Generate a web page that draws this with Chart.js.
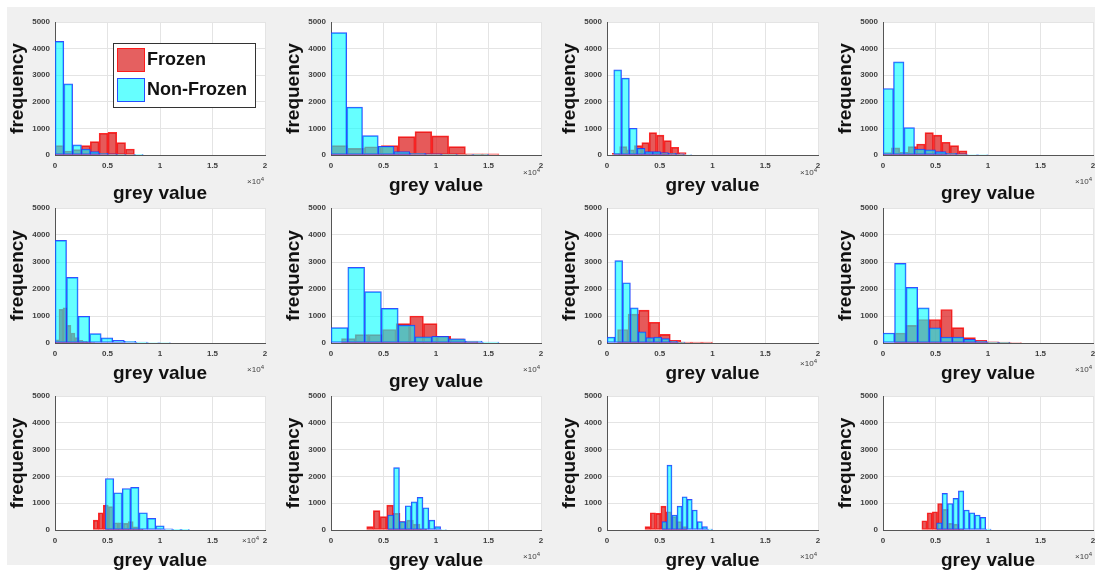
<!DOCTYPE html>
<html>
<head>
<meta charset="utf-8">
<script src="https://cdn.jsdelivr.net/npm/chart.js@4.4.1/dist/chart.umd.min.js"></script>
<style>
  html, body { margin: 0; padding: 0; background: #fff; width: 1098px; height: 570px; overflow: hidden; }
  #fig { position: absolute; left: 7px; top: 7px; width: 1088px; height: 558px; background: #f0f0f0; }
  .panel { position: absolute; }
</style>
</head>
<body>
<div id="fig"></div>
<script>
// bin edges + counts for each subplot, row by row
const frozenEdges = [
  [0, 840, 1680, 2520, 3360, 4200, 5040, 5880, 6720, 7560],
  [0, 1600, 3200, 4800, 6400, 8000, 9600, 11200, 12800, 14400, 16000],
  [500, 1200, 1900, 2600, 3300, 4000, 4700, 5400, 6100, 6800, 7500],
  [0, 800, 1600, 2400, 3200, 4000, 4800, 5600, 6400, 7200, 8000],
  [0, 380, 760, 1140, 1520, 1900, 2280, 2660, 3040, 3420, 3800],
  [1000, 2300, 3600, 4900, 6200, 7500, 8800, 10100, 11400, 12700, 14000],
  [1000, 2000, 3000, 4000, 5000, 6000, 7000, 8000, 9000, 10000],
  [1100, 2200, 3300, 4400, 5500, 6600, 7700, 8800, 9900, 11000, 12100, 13200],
  [3650, 4125, 4600, 5075, 5550, 6025, 6500, 6975, 7450, 7925, 8400],
  [3400, 4035, 4670, 5305, 5940, 6575, 7210, 7845, 8480, 9115],
  [3600, 4100, 4600, 5100, 5600, 6100, 6600, 7100, 7600],
  [3700, 4200, 4700, 5200, 5700, 6200, 6700, 7200, 7700]
];
const frozenCounts = [
  [350, 150, 200, 350, 500, 816, 850, 465, 226],
  [350, 250, 310, 350, 690, 880, 716, 314, 40, 40],
  [60, 314, 190, 350, 465, 840, 750, 540, 290, 90],
  [90, 270, 100, 314, 415, 840, 750, 480, 350, 160],
  [120, 1250, 1300, 650, 370, 200, 100, 60, 40, 20],
  [160, 310, 310, 500, 720, 1000, 720, 250, 150, 50],
  [500, 1070, 1215, 770, 320, 100, 30, 30, 30],
  [370, 650, 870, 870, 1240, 570, 200, 100, 40, 30, 20],
  [370, 645, 930, 870, 270, 270, 250, 310, 120, 30],
  [125, 720, 500, 930, 620, 310, 370, 220, 30],
  [125, 645, 620, 890, 680, 500, 310, 125],
  [345, 645, 680, 990, 770, 250, 220, 30]
];
const nonFrozenEdges = [
  [0, 840, 1680, 2520, 3360, 4200, 5040, 5880, 6720, 7560, 8400],
  [0, 1500, 3000, 4500, 6000, 7500, 9000, 10500, 12000, 13500, 15000],
  [640, 1380, 2120, 2860, 3600, 4340, 5080, 5820, 6560, 7300, 8040],
  [0, 1000, 2000, 3000, 4000, 5000, 6000, 7000, 8000, 9000, 10000],
  [0, 1100, 2200, 3300, 4400, 5500, 6600, 7700, 8800, 9900, 11000],
  [0, 1600, 3200, 4800, 6400, 8000, 9600, 11200, 12800, 14400, 16000],
  [0, 740, 1480, 2220, 2960, 3700, 4440, 5180, 5920, 6660, 7400],
  [0, 1100, 2200, 3300, 4400, 5500, 6600, 7700, 8800, 9900, 11000, 12100],
  [4800, 5600, 6400, 7200, 8000, 8800, 9600, 10400, 11200, 12000, 12800],
  [5400, 5960, 6520, 7080, 7640, 8200, 8760, 9320, 9880, 10440, 11000],
  [5200, 5680, 6160, 6640, 7120, 7600, 8080, 8560, 9040, 9520, 10000],
  [5100, 5620, 6140, 6660, 7180, 7700, 8220, 8740, 9260, 9780, 10300]
];
const nonFrozenCounts = [
  [4270, 2675, 380, 220, 125, 60, 40, 30, 20, 10],
  [4600, 1800, 730, 330, 130, 60, 40, 30, 20, 10],
  [3200, 2890, 1005, 250, 125, 125, 90, 60, 40, 20],
  [2500, 3500, 1030, 226, 190, 125, 60, 40, 20, 20],
  [3800, 2430, 990, 350, 190, 100, 60, 30, 20, 20],
  [570, 2800, 1900, 1280, 660, 225, 250, 150, 75, 30],
  [220, 3050, 2230, 1300, 410, 200, 220, 160, 75, 30],
  [370, 2950, 2060, 1300, 560, 220, 220, 136, 75, 30, 10],
  [1920, 1390, 1550, 1590, 645, 435, 160, 40, 10, 10],
  [560, 2330, 310, 905, 1050, 1215, 830, 370, 125, 20],
  [310, 2420, 560, 890, 1240, 1140, 745, 310, 125, 30],
  [270, 1365, 990, 1180, 1460, 745, 645, 560, 470, 30]
];
const seriesNames = ['Frozen', 'Non-Frozen'];
const xTicks = [0, 5000, 10000, 15000, 20000];
const yTicks = [0, 1000, 2000, 3000, 4000, 5000];

// plot-area boxes (px) of the 4x3 grid
const colBox = [[55, 265], [331, 541], [607, 818], [883, 1093]];
const rowBox = [[22, 155], [208, 343], [396, 530]];
// distance from the axis line down to the centre of "grey value" / the x10^4 note
const titleGap = [38, 30, 30, 38, 30, 38, 30, 30, 30, 30, 30, 30];
const expGap   = [27, 18, 18, 27, 27, 27, 21, 27, 11, 27, 27, 27];

const FONT = 'Arial, "Liberation Sans", Helvetica, sans-serif';
const LEFT = 55, TOP = 10, RIGHT = 10, BOTTOM = 52;

function bins(edges, counts) {
  return counts.map((c, i) => ({ x: (edges[i] + edges[i + 1]) / 2, y: c }));
}

// white axes background
const plotBackground = {
  id: 'plotBackground',
  beforeDraw(chart) {
    const { ctx, chartArea: a } = chart;
    ctx.save();
    ctx.fillStyle = '#fff';
    ctx.fillRect(a.left, a.top, a.right - a.left, a.bottom - a.top);
    ctx.restore();
  }
};

// "x10^4" multiplier under the right end of the x axis
const exponentNote = {
  id: 'exponentNote',
  afterDraw(chart, args, opts) {
    const { ctx, chartArea } = chart;
    ctx.save();
    ctx.fillStyle = '#404040';
    ctx.textBaseline = 'middle';
    ctx.textAlign = 'right';
    ctx.font = '6px ' + FONT;
    const x = chartArea.right - (opts.gap < 15 ? 6 : 1), y = chartArea.bottom + opts.gap;
    ctx.fillText('4', x, y - 3);
    const w = ctx.measureText('4').width;
    ctx.font = '8px ' + FONT;
    ctx.fillText('\u00d710', x - w, y);
    ctx.restore();
  }
};

// boxed legend in the top-right corner of the first subplot
const boxLegend = {
  id: 'boxLegend',
  afterDraw(chart, args, opts) {
    if (!opts.show) return;
    const { ctx, chartArea } = chart;
    const x0 = chartArea.right - 152, y0 = chartArea.top + 21, w = 142, h = 64;
    ctx.save();
    ctx.fillStyle = '#fff';
    ctx.fillRect(x0, y0, w, h);
    ctx.strokeStyle = '#333';
    ctx.lineWidth = 1;
    ctx.strokeRect(x0 + 0.5, y0 + 0.5, w, h);
    const order = [1, 0];
    order.forEach((di, k) => {
      const ds = chart.data.datasets[di];
      const sy = y0 + 5 + k * 30;
      ctx.fillStyle = ds.legendFill;
      ctx.fillRect(x0 + 4, sy, 28, 24);
      ctx.strokeStyle = ds.borderColor;
      ctx.strokeRect(x0 + 4.5, sy + 0.5, 27, 23);
      ctx.fillStyle = '#111';
      ctx.font = 'bold 18px ' + FONT;
      ctx.textBaseline = 'middle';
      ctx.textAlign = 'left';
      ctx.fillText(ds.label, x0 + 34, sy + 12);
    });
    ctx.restore();
  }
};

const fig = document.body;
for (let p = 0; p < 12; p++) {
  const [l, r] = colBox[p % 4];
  const [t, b] = rowBox[Math.floor(p / 4)];
  const w = r - l + LEFT + RIGHT, h = b - t + TOP + BOTTOM;
  const canvas = document.createElement('canvas');
  canvas.className = 'panel';
  canvas.width = w; canvas.height = h;
  canvas.style.left = (l - LEFT) + 'px';
  canvas.style.top = (t - TOP) + 'px';
  canvas.style.width = w + 'px';
  canvas.style.height = h + 'px';
  fig.appendChild(canvas);

  const xAxisHeight = titleGap[p] + 10;

  new Chart(canvas, {
    type: 'bar',
    data: {
      datasets: [
        {
          label: seriesNames[1],
          data: bins(nonFrozenEdges[p], nonFrozenCounts[p]),
          xAxisID: 'xb',
          backgroundColor: 'rgba(0, 255, 255, 0.6)',
          legendFill: 'rgb(102, 255, 255)',
          borderColor: 'rgba(30, 60, 255, 0.9)',
          borderWidth: 1,
          borderSkipped: false,
          grouped: false,
          barPercentage: 1,
          categoryPercentage: 1,
          order: 0
        },
        {
          label: seriesNames[0],
          data: bins(frozenEdges[p], frozenCounts[p]),
          xAxisID: 'x',
          backgroundColor: 'rgba(220, 20, 20, 0.7)',
          legendFill: 'rgb(229, 96, 96)',
          borderColor: 'rgba(255, 20, 20, 0.9)',
          borderWidth: 1,
          borderSkipped: false,
          grouped: false,
          barPercentage: 1,
          categoryPercentage: 1,
          order: 1
        }
      ]
    },
    options: {
      responsive: false,
      animation: false,
      devicePixelRatio: 1,
      layout: { padding: { left: 0, top: TOP, right: RIGHT, bottom: h - TOP - (b - t) - xAxisHeight } },
      plugins: {
        legend: { display: false },
        tooltip: { enabled: false },
        exponentNote: { gap: expGap[p] },
        boxLegend: { show: p === 0 }
      },
      scales: {
        x: {
          type: 'linear',
          min: xTicks[0], max: xTicks[xTicks.length - 1],
          offset: false,
          afterFit(s) { s.height = xAxisHeight; },
          afterBuildTicks(s) { s.ticks = xTicks.map(v => ({ value: v })); },
          grid: { color: '#e4e4e4', offset: false, drawTicks: false },
          border: { color: '#555', width: 1 },
          ticks: {
            padding: 6, autoSkip: false, maxRotation: 0, color: '#404040',
            font: { family: FONT, size: 8, weight: 'bold' },
            callback: v => String(v / 10000)
          },
          title: {
            display: true, text: 'grey value', color: '#111',
            font: { family: FONT, size: 19, weight: 'bold', lineHeight: 1 },
            padding: { top: 0, bottom: 0 }
          }
        },
        xb: {
          type: 'linear', display: false,
          min: xTicks[0], max: xTicks[xTicks.length - 1],
          offset: false,
          afterBuildTicks(s) { s.ticks = xTicks.map(v => ({ value: v })); }
        },
        y: {
          min: yTicks[0], max: yTicks[yTicks.length - 1],
          afterFit(s) { s.width = LEFT; },
          afterBuildTicks(s) { s.ticks = yTicks.map(v => ({ value: v })); },
          grid: { color: '#e4e4e4', drawTicks: false },
          border: { color: '#555', width: 1 },
          ticks: {
            padding: 5, color: '#404040',
            font: { family: FONT, size: 8, weight: 'bold' },
            callback: v => String(v)
          },
          title: {
            display: true, text: 'frequency', color: '#111',
            font: { family: FONT, size: 19, weight: 'bold', lineHeight: 1 },
            padding: { top: 8, bottom: 0 }
          }
        }
      }
    },
    plugins: [plotBackground, exponentNote, boxLegend]
  });
}
</script>
</body>
</html>
